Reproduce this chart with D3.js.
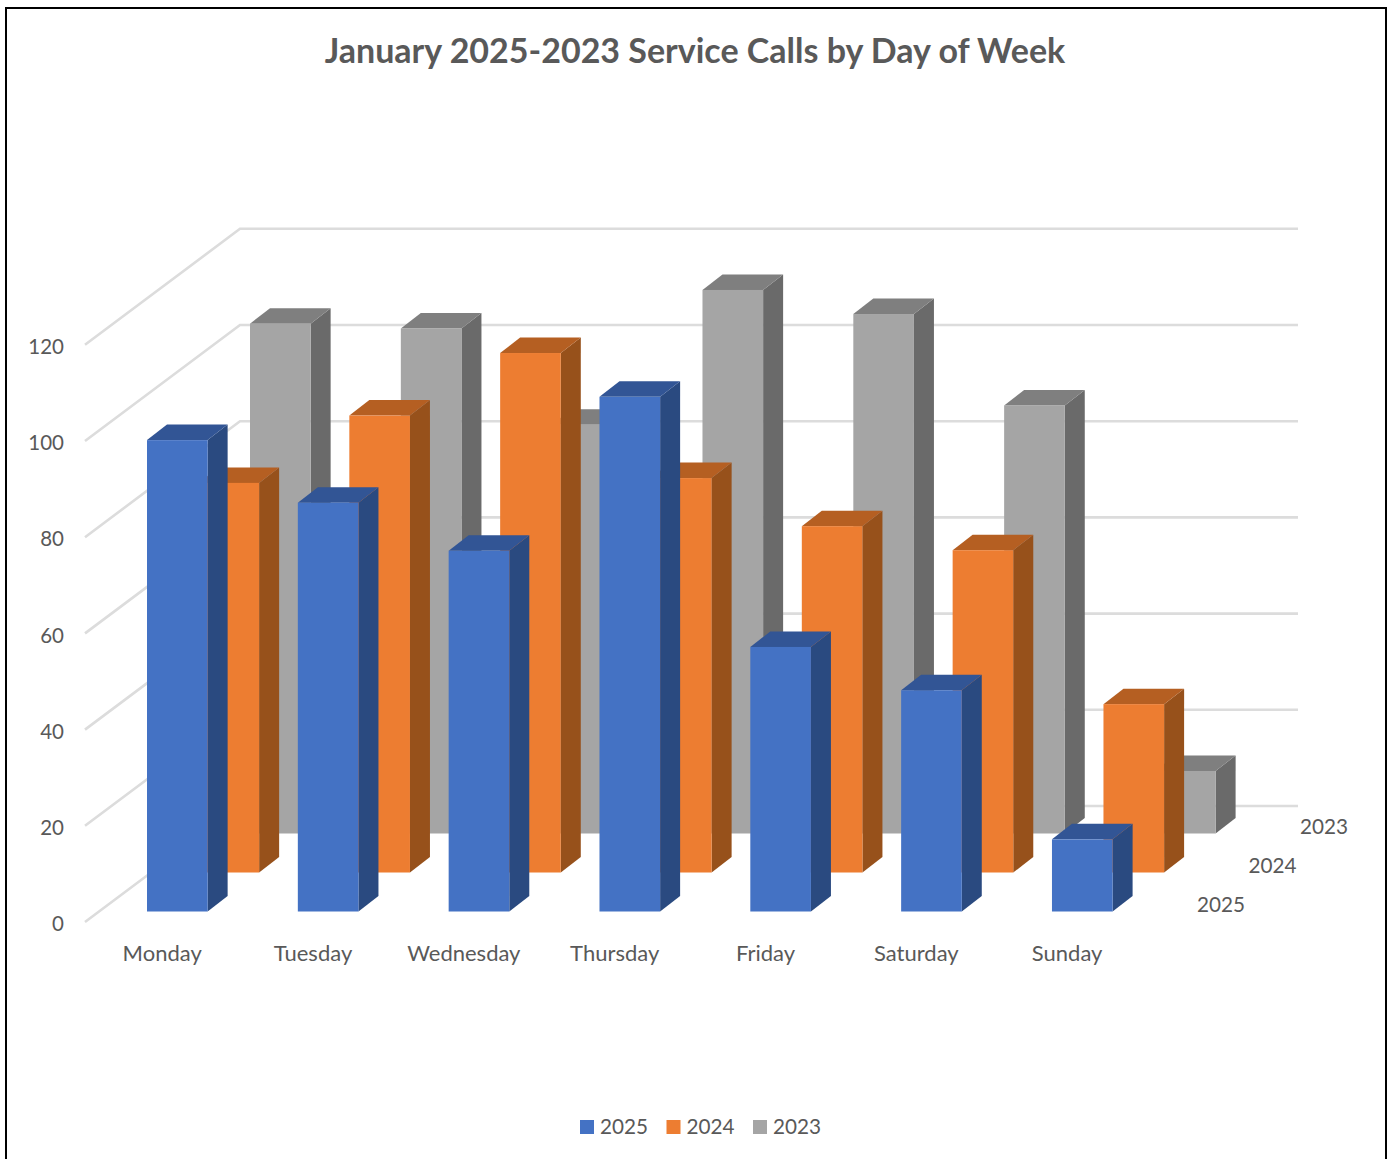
<!DOCTYPE html>
<html>
<head>
<meta charset="utf-8">
<script src="https://cdn.jsdelivr.net/npm/d3@7/dist/d3.min.js"></script>
<style>
html,body{margin:0;padding:0;background:#fff;}
svg{display:block;}
text{font-family:Lato,"Open Sans",sans-serif;fill:#595959;}
</style>
</head>
<body>
<svg id="chart" width="1390" height="1159"></svg>
<script>
const days = ["Monday","Tuesday","Wednesday","Thursday","Friday","Saturday","Sunday"];
const years = ["2025","2024","2023"];
const values2025 = [98,85,75,107,55,46,15];
const values2024 = [81,95,108,82,72,67,35];
const values2023 = [106,105,85,113,108,89,13];
const valueTicks = [0,20,40,60,80,100,120];
const seriesValues = {"2025":values2025,"2024":values2024,"2023":values2023};
const palette = {
  "2025":{front:"#4472C4",top:"#325595",side:"#2A4A80"},
  "2024":{front:"#ED7D31",top:"#B55F22",side:"#97511B"},
  "2023":{front:"#A5A5A5",top:"#7F7F7F",side:"#6A6A6A"}
};

const svg = d3.select("#chart");

// frame
const frame = svg.append("g").attr("stroke","#000").attr("stroke-width",2);
frame.append("path").attr("fill","none").attr("d","M6,1159V8H1386V1159");

// scales
const x = d3.scaleBand().domain(days).range([147,1112.6]).paddingInner(0.598).paddingOuter(0);
const y = d3.scaleLinear().domain([0,120]).range([0,577.2]);
const seriesX = d3.scalePoint().domain(years).range([0,103]);
const seriesY = d3.scalePoint().domain(years).range([911.5,833.5]);
const depthX = 20, depthY = 15.5;

// walls
const wallLeft = 85, wallBackX = 240, wallRight = 1298, frontZero = 922, backZero = 806;
const grid = svg.append("g").attr("fill","none").attr("stroke","#DCDCDC").attr("stroke-width",2.6);
grid.selectAll("path").data(valueTicks).join("path")
  .attr("d", v => `M${wallLeft},${frontZero-y(v)}L${wallBackX},${backZero-y(v)}H${wallRight}`);

// value labels
svg.append("g").selectAll("text").data(valueTicks).join("text")
  .attr("x",64).attr("y",v=>frontZero-y(v)+4)
  .attr("text-anchor","end").attr("dominant-baseline","middle")
  .attr("font-size",20.5).text(d=>d);

// bars: back series first
[...years].reverse().forEach(yr=>{
  const g = svg.append("g").attr("class","series-"+yr);
  const c = palette[yr];
  const rows = days.map((d,i)=>({day:d,value:seriesValues[yr][i]}));
  const bw = x.bandwidth();
  const L = d=>x(d.day)+seriesX(yr);
  const B = seriesY(yr);
  const T = d=>B-y(d.value);
  g.selectAll(".side").data(rows).join("path").attr("class","side").attr("fill",c.side)
    .attr("d",d=>`M${L(d)+bw},${T(d)}l${depthX},${-depthY}V${B-depthY}L${L(d)+bw},${B}Z`);
  g.selectAll(".top").data(rows).join("path").attr("class","top").attr("fill",c.top)
    .attr("d",d=>`M${L(d)},${T(d)}l${depthX},${-depthY}h${bw}l${-depthX},${depthY}Z`);
  g.selectAll(".front").data(rows).join("rect").attr("class","front").attr("fill",c.front)
    .attr("x",L).attr("y",T).attr("width",bw).attr("height",d=>y(d.value));
});

// category labels
svg.append("g").selectAll("text").data(days).join("text")
  .attr("x",d=>x(d)+15.2).attr("y",955)
  .attr("text-anchor","middle").attr("dominant-baseline","middle")
  .attr("font-size",22).text(d=>d);

// depth labels
const depthLabelX = d3.scalePoint().domain(years).range([1197,1300]);
const depthLabelY = d3.scalePoint().domain(years).range([907,829]);
svg.append("g").selectAll("text").data(years).join("text")
  .attr("x",d=>depthLabelX(d)).attr("y",d=>depthLabelY(d))
  .attr("dominant-baseline","middle").attr("font-size",20.7).text(d=>d);

// title
svg.append("text").attr("x",695).attr("y",63).attr("text-anchor","middle")
  .attr("font-size",34).attr("font-weight",700)
  .text("January 2025-2023 Service Calls by Day of Week");

// legend
const legendX = d3.scalePoint().domain(years).range([580,753]);
const legend = svg.append("g").selectAll("g").data(years).join("g")
  .attr("transform",d=>`translate(${legendX(d)},1120)`);
legend.append("rect").attr("width",14).attr("height",14).attr("fill",d=>palette[d].front);
legend.append("text").attr("x",20).attr("y",9).attr("dominant-baseline","middle")
  .attr("font-size",20.7).text(d=>d);
</script>
</body>
</html>
